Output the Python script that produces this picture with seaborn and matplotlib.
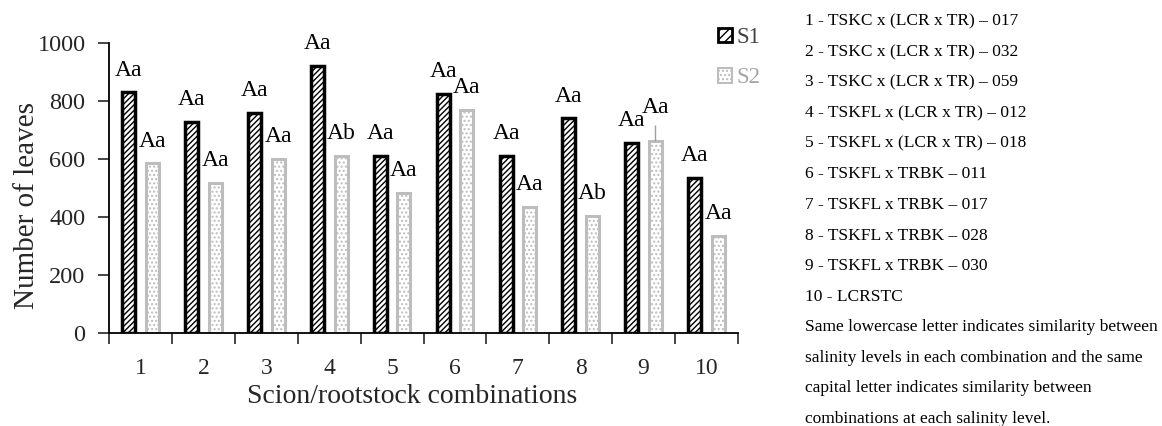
import matplotlib
matplotlib.use("Agg")
import matplotlib.pyplot as plt
from matplotlib.patches import Patch
from matplotlib.ticker import FixedLocator
import numpy as np
import seaborn as sns
import pandas as pd

# values
combos = ["1", "2", "3", "4", "5", "6", "7", "8", "9", "10"]
s1 = [830, 728, 758, 922, 612, 826, 610, 740, 655, 534]
s2 = [585, 517, 600, 612, 482, 770, 434, 403, 662, 334]
s1_letters = ["Aa"] * 10
s2_letters = ["Aa", "Aa", "Aa", "Ab", "Aa", "Aa", "Aa", "Ab", "Aa", "Aa"]
s2_err = [0, 0, 0, 0, 0, 0, 0, 0, 55, 0]

key_lines = [
    "1 - TSKC x (LCR x TR) \u2013 017",
    "2 - TSKC x (LCR x TR) \u2013 032",
    "3 - TSKC x (LCR x TR) \u2013 059",
    "4 - TSKFL x (LCR x TR) \u2013 012",
    "5 - TSKFL x (LCR x TR) \u2013 018",
    "6 - TSKFL x TRBK \u2013 011",
    "7 - TSKFL x TRBK \u2013 017",
    "8 - TSKFL x TRBK \u2013 028",
    "9 - TSKFL x TRBK \u2013 030",
    "10 - LCRSTC",
    "Same lowercase letter indicates similarity between",
    "salinity levels in each combination and the same",
    "capital letter indicates similarity between",
    "combinations at each salinity level.",
]

df = pd.DataFrame({
    "combo": combos * 2,
    "leaves": s1 + s2,
    "level": ["S1"] * 10 + ["S2"] * 10,
})

sns.set_style("white")
plt.rcParams["font.family"] = ["Liberation Serif", "DejaVu Serif"]
plt.rcParams["hatch.linewidth"] = 1.0

fig = plt.figure(figsize=(11.62, 4.26), dpi=100)
ax = fig.add_axes([0.094, 0.218, 0.541, 0.681])

sns.barplot(data=df, x="combo", y="leaves", hue="level", order=combos,
            width=0.75, gap=0.45, palette=["white", "white"],
            errorbar=None, legend=False, ax=ax)

for bar in ax.containers[0]:
    bar.set_edgecolor("black")
    bar.set_linewidth(2.5)
    bar.set_hatch("//////")
for bar in ax.containers[1]:
    bar.set_edgecolor("#bdbdbd")
    bar.set_linewidth(2.2)
    bar.set_hatch("....")

# single visible error bar (combination 9, S2)
for bar, v, e in zip(ax.containers[1], s2, s2_err):
    if e > 0:
        cx = bar.get_x() + bar.get_width() / 2
        ax.errorbar(cx, v, yerr=[[0], [e]], color="#a0a0a0", lw=1, capsize=0)

# significance letters
for cont, vals, labs, errs in [(ax.containers[0], s1, s1_letters, [0] * 10),
                               (ax.containers[1], s2, s2_letters, s2_err)]:
    for bar, v, t, e in zip(cont, vals, labs, errs):
        cx = bar.get_x() + bar.get_width() / 2
        off = 58 if e == 0 else 42
        ax.text(cx, v + e + off, t, ha="center", va="baseline", fontsize=17, color="black")

ax.set_ylim(0, 1000)
ax.set_xlim(-0.5, 9.5)
ax.set_yticks([0, 200, 400, 600, 800, 1000])
ax.tick_params(axis="y", labelsize=17.5, length=8, width=1.2, direction="out", left=True, pad=9)
ax.tick_params(axis="x", which="major", labelsize=17, length=0, pad=18)
ax.xaxis.set_minor_locator(FixedLocator(np.arange(-0.5, 10, 1)))
ax.tick_params(axis="x", which="minor", length=8, width=1.2, direction="out", bottom=True)
ax.set_xlabel("Scion/rootstock combinations", fontsize=20)
ax.set_ylabel("Number of leaves", fontsize=21)
ax.xaxis.set_label_coords(0.482, -0.175)
ax.yaxis.set_label_coords(-0.131, 0.44)
ax.yaxis.label.set_va("center")

sns.despine(ax=ax)
for side in ["left", "bottom"]:
    ax.spines[side].set_linewidth(1.3)
    ax.spines[side].set_color("black")

handles = [Patch(facecolor="white", edgecolor="black", hatch="////", linewidth=2),
           Patch(facecolor="white", edgecolor="#bdbdbd", hatch="....", linewidth=1.5)]
leg = fig.legend(handles, ["S1", "S2"], loc="upper left", bbox_to_anchor=(0.6, 0.985),
                 frameon=False, fontsize=16.5, handlelength=0.6, handleheight=0.6,
                 handletextpad=0.2, labelspacing=0.85)
leg.get_texts()[0].set_color("#404040")
leg.get_texts()[1].set_color("#a6a6a6")

y0 = 0.95
step = 30.6 / 426
for i, line in enumerate(key_lines):
    fig.text(0.693, y0 - i * step, line, fontsize=12.5, ha="left", va="center", color="black")

fig.savefig("out.png", dpi=100)
